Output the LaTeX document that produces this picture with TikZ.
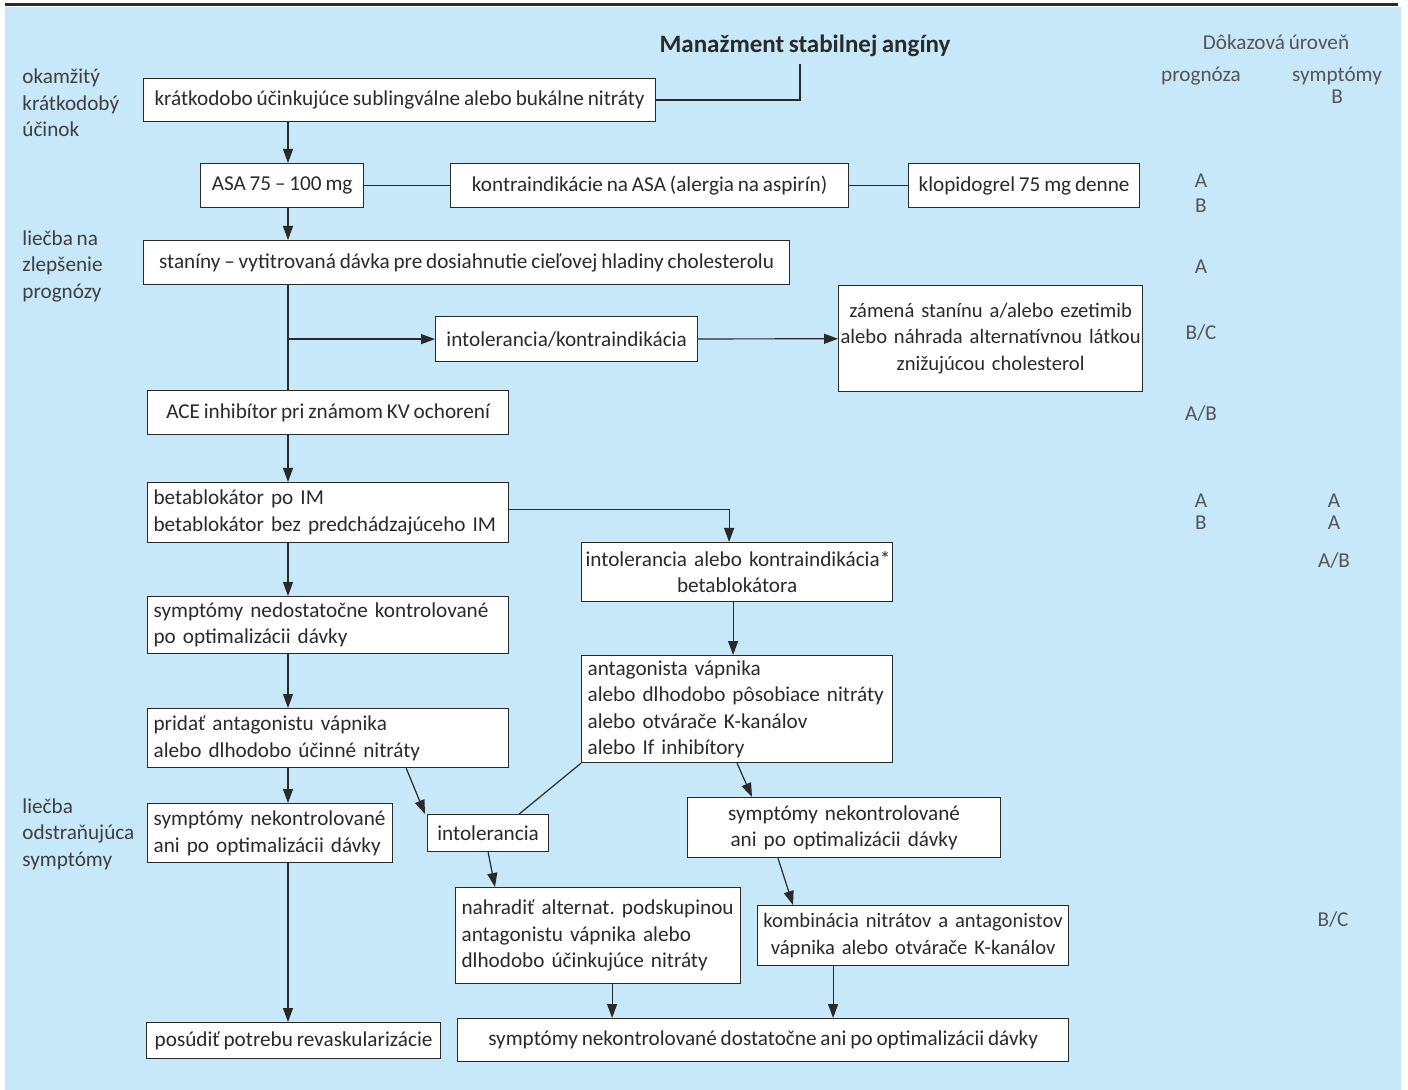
\documentclass[tikz,border=0pt]{standalone}
\usepackage{fontspec}
\setmainfont{Carlito}[WordSpace=0.8]
\usepackage{tikz}
\usetikzlibrary{arrows.meta,calc}
\definecolor{panel}{HTML}{C6E8F8}
\definecolor{ink}{HTML}{2A2A2A}

\begin{document}
\begin{tikzpicture}[x=0.5pt,y=-0.5pt,
    box/.style={draw=ink,fill=white,line width=0.6pt,anchor=north west,inner xsep=3pt,inner ysep=2pt,
                font=\fontsize{10.6}{13.25}\selectfont,text=ink,align=center,
                execute at begin node={\hyphenpenalty=10000\exhyphenpenalty=10000\hfuzz=20pt}},
    lbox/.style={box,align=left,text width=#1},
    cbox/.style={box,align=center,text width=#1},
    arr/.style={-{Triangle[length=7pt,width=5pt]},ink,line width=0.6pt},
    ln/.style={ink,line width=0.6pt},
    side/.style={anchor=west,align=left,inner sep=0pt,font=\fontsize{10.6}{13.25}\selectfont,text=ink!90},
    lvl/.style={inner sep=0pt,font=\fontsize{10.6}{13}\selectfont,text=ink!80}
  ]
  \useasboundingbox (0,0) rectangle (1408,1090);
  \fill[panel] (5,7) rectangle (1401,1090);
  \draw[ink,line width=1.5pt] (5,5) -- (1398,5);

  % Heads and evidence levels
  \node[font=\bfseries\fontsize{12.5}{15}\selectfont,text=ink] (title) at (805,46) {Manažment stabilnej angíny};
  \node[lvl] (lvlhead) at (1276,42) {Dôkazová úroveň};
  \node[lvl] (proghead) at (1201,76) {prognóza};
  \node[lvl] (symphead) at (1337,76) {symptómy};
  \node[lvl] (symphb) at (1337,97) {B};
  \foreach \x/\y/\t [count=\i] in {1201/181/A,1201/206/B,1201/267/A,1201/333/B\slash C,1201/414/A\slash B,
      1201/501/A,1201/523/B,1334/501/A,1334/523/A,1334/561/A\slash B,1333/920/B\slash C}
    \node[lvl] (lv\i) at (\x,\y) {\t};

  \node[side] (immed) at (22,103) {okamžitý\\krátkodobý\\účinok};
  \node[side] (progn) at (22,266) {liečba na\\zlepšenie\\prognózy};
  \node[side] (sympt) at (22,834) {liečba\\odstraňujúca\\symptómy};
  \coordinate (spine) at (288,0);

  % Upper chain
  \node[box,minimum width=256pt,minimum height=21.5pt] (nitr) at (143,78) {krátkodobo účinkujúce sublingválne alebo bukálne nitráty};
  \node[box,minimum width=81.5pt,minimum height=22pt] (asa) at (200,163) {ASA 75 – 100 mg};
  \node[box,minimum width=199pt,minimum height=22pt] (contra) at (450,163) {kontraindikácie na ASA (alergia na aspirín)};
  \node[box,minimum width=115.5pt,minimum height=22pt] (clop) at (908,163) {klopidogrel 75 mg denne};
  \node[box,minimum width=323pt,minimum height=22pt] (statin) at (143,240) {staníny – vytitrovaná dávka pre dosiahnutie cieľovej hladiny cholesterolu};
  \node[box,minimum width=131pt,minimum height=22.5pt] (intol) at (435,316) {intolerancia/kontraindikácia};
  \node[cbox=150pt,inner xsep=1pt,minimum height=53pt,font=\fontsize{10.3}{13.25}\selectfont] (swap) at (838,285) {zámená stanínu a/alebo~ezetimib\\alebo~náhrada~alternatívnou~látkou\\znižujúcou cholesterol};
  \node[box,minimum width=180.5pt,minimum height=22pt] (ace) at (147,390) {ACE inhibítor pri známom KV ochorení};
  \draw[ln] ([xshift=-2.5pt]title.south) |- (nitr.east);
  \draw[arr] (nitr.south -| spine) -- (asa.north -| spine);
  \draw[ln] (asa) -- (contra);
  \draw[ln] (contra) -- (clop);
  \draw[arr] (asa.south -| spine) -- (statin.north -| spine);
  \draw[ln] (statin.south -| spine) -- (ace.north -| spine);
  \draw[arr] (intol.west -| spine) -- (intol.west);
  \draw[arr] (intol) -- (swap);

  % Beta blocker branch
  \node[lbox=174.5pt,minimum height=30pt] (beta) at (147,482) {betablokátor po IM\\betablokátor~bez~predchádzajúceho~IM};
  \node[cbox=151.5pt,inner xsep=2pt,minimum height=29.5pt] (nobeta) at (581,542) {intolerancia~alebo~kontraindikácia*\\betablokátora};
  \node[lbox=149.5pt,minimum height=53.5pt] (calc) at (581,655) {antagonista vápnika\\alebo~dlhodobo~pôsobiace~nitráty\\alebo otvárače K-kanálov\\alebo If inhibítory};
  \node[lbox=174.5pt,minimum height=28.5pt] (poor) at (147,596) {symptómy~nedostatočne~kontrolované\\po optimalizácii dávky};
  \node[lbox=174.5pt,minimum height=29.5pt] (addca) at (147,708) {pridať antagonistu vápnika\\alebo dlhodobo účinné nitráty};
  \draw[arr] (ace.south -| spine) -- (beta.north -| spine);
  \draw[arr] ([yshift=1.5pt]beta.east) -| ([xshift=-4pt]nobeta.north);
  \draw[arr] ([xshift=-2pt]nobeta.south) -- ([xshift=-2pt]calc.north);
  \draw[arr] (beta.south -| spine) -- (poor.north -| spine);
  \draw[arr] (poor.south -| spine) -- (addca.north -| spine);

  % Lower part
  \node[lbox=116.5pt,minimum height=29.5pt] (uncl) at (147,803) {symptómy~nekontrolované\\ani~po~optimalizácii~dávky};
  \node[box,minimum width=147pt,minimum height=18pt] (revasc) at (146,1022) {posúdiť potrebu revaskularizácie};
  \node[box,minimum width=60.5pt,minimum height=18.5pt] (intol2) at (427,814) {intolerancia};
  \node[cbox=150.5pt,minimum height=30pt] (uncr) at (687,797) {symptómy nekontrolované\\ani po optimalizácii dávky};
  \node[lbox=136.5pt,minimum height=48pt] (subst) at (455,887) {nahradiť~alternat.~podskupinou\\antagonistu vápnika alebo\\dlhodobo~účinkujúce~nitráty};
  \node[cbox=153.5pt,inner xsep=1pt,minimum height=30pt,font=\fontsize{10.3}{13.25}\selectfont] (combo) at (757,905) {kombinácia~nitrátov~a~antagonistov\\vápnika~alebo~otvárače~K-kanálov};
  \node[box,minimum width=305.5pt,minimum height=21.5pt] (final) at (457,1018) {symptómy nekontrolované dostatočne ani po optimalizácii dávky};
  \draw[arr] (addca.south -| spine) -- (uncl.north -| spine);
  \draw[arr] (uncl.south -| spine) -- (revasc.north -| spine);
  \draw[arr] ([xshift=-51.5pt]addca.south east) -- ([xshift=-1pt]intol2.north west);
  \draw[ln] (calc.south west) -- ([xshift=-15pt]intol2.north east);
  \draw[arr] (calc.south) -- ([xshift=32.5pt]uncr.north west);
  \draw[arr] (intol2.south) -- ([xshift=20pt]subst.north west);
  \draw[arr] ([xshift=45.5pt]uncr.south west) -- ([xshift=18pt]combo.north west);
  \draw[arr] ([xshift=7pt]subst.south) -- ([xshift=7pt]subst.south |- final.north);
  \draw[arr] ([xshift=-40pt]combo.south) -- ([xshift=-40pt]combo.south |- final.north);
\end{tikzpicture}
\end{document}
